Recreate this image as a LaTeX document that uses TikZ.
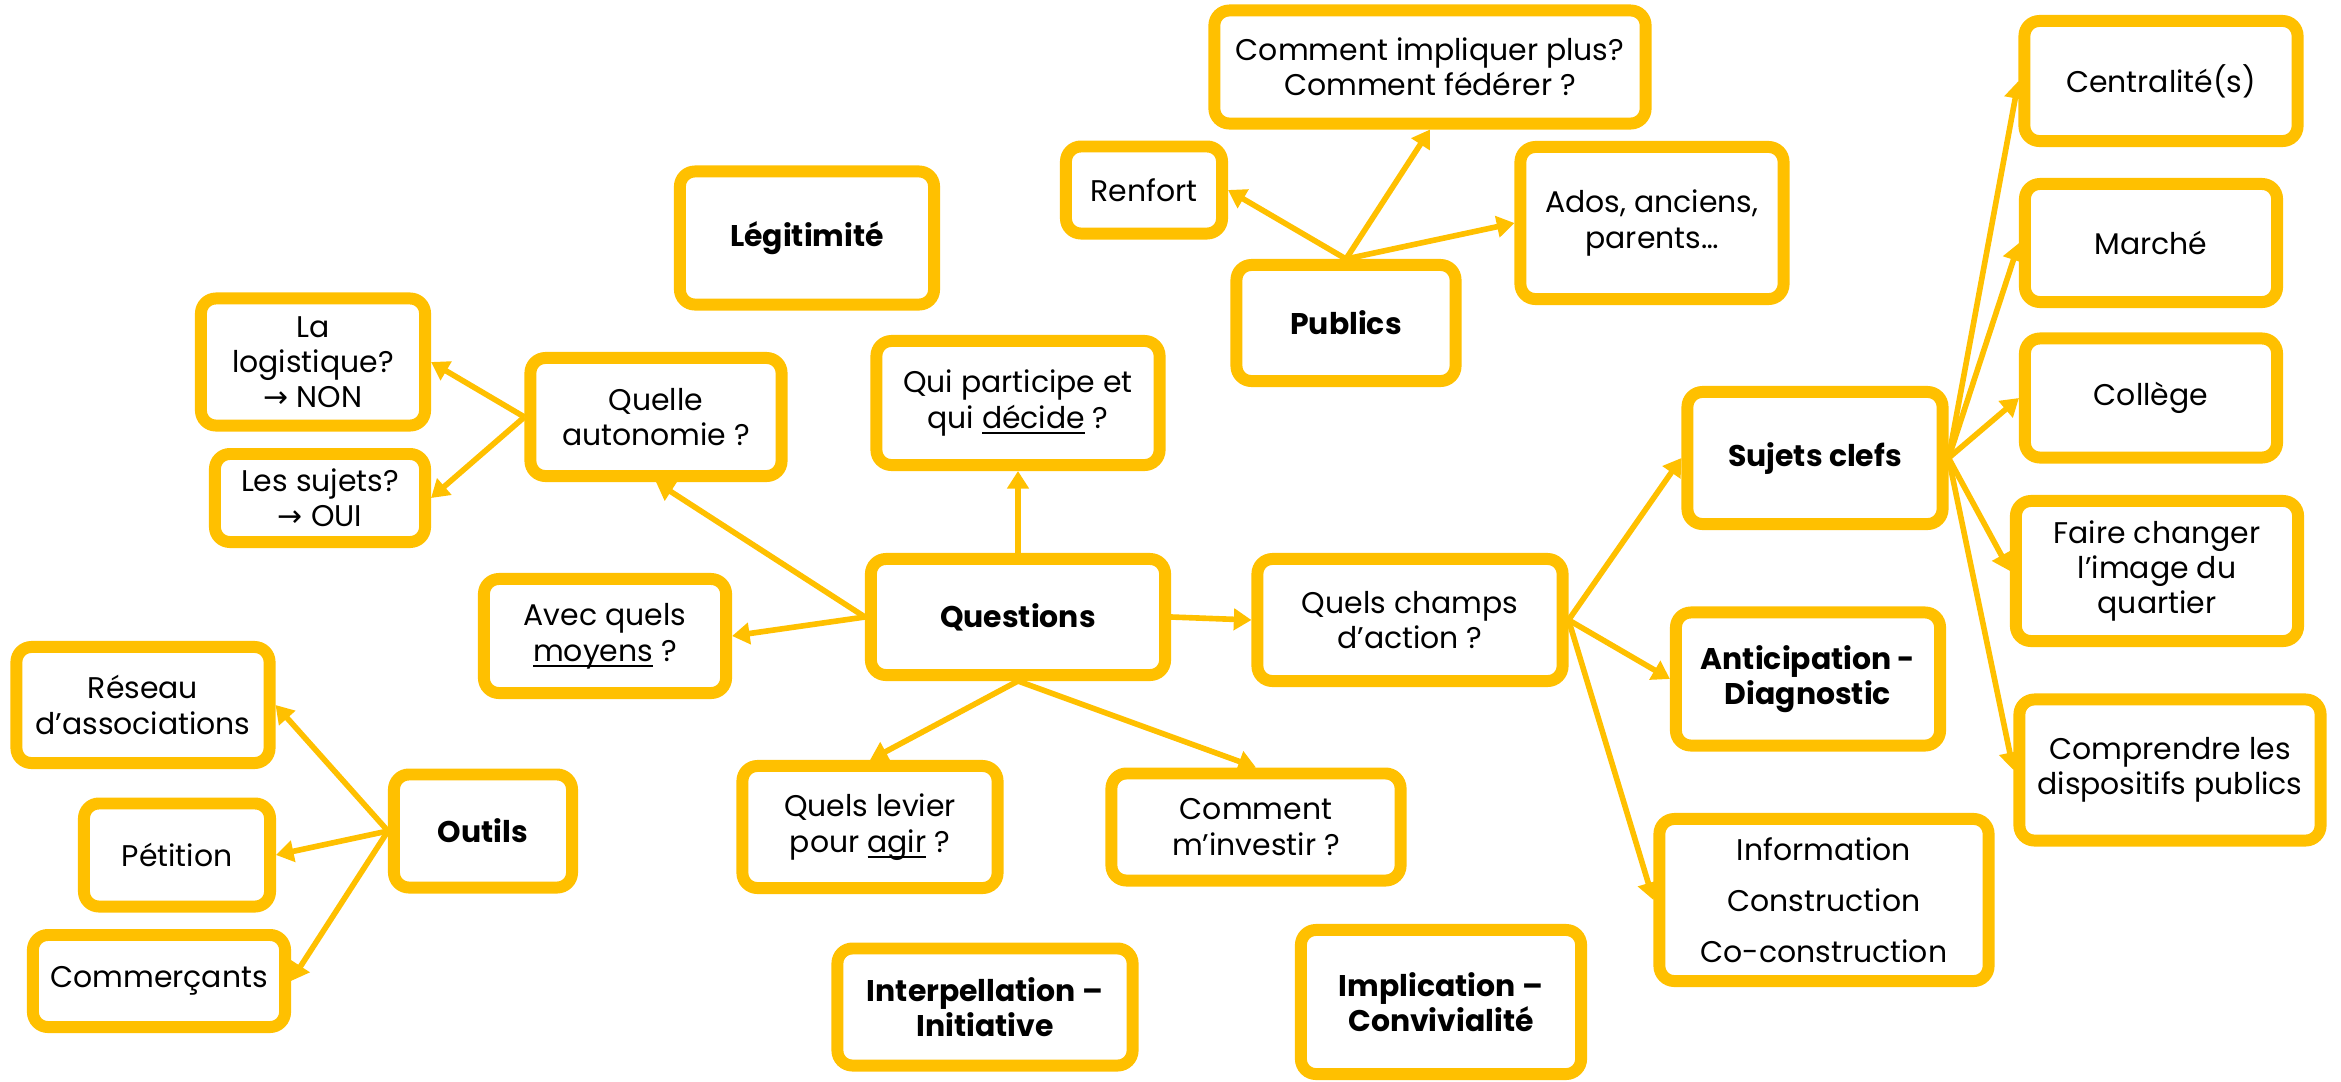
\documentclass[tikz,border=0pt]{standalone}
\usepackage{fontspec}
\setmainfont{Poppins}
\newfontfamily\symfont{DejaVu Sans}
\usetikzlibrary{arrows.meta}
\definecolor{gold}{HTML}{FFC000}
\newcommand{\ul}[1]{\underline{\smash{#1}}}
\newcommand{\fleche}{{\symfont →}}

\begin{document}
\begin{tikzpicture}[x=0.01cm, y=-0.01cm,
    n/.style={draw=gold, line width=3.4pt, rounded corners=0.15cm, fill=white, align=center, inner sep=1pt, font=\fontsize{8.5}{10}\selectfont},
    nb/.style={n, font=\fontsize{8.5}{10}\selectfont\bfseries},
    a/.style={color=gold, line width=1.6pt, -{Triangle[length=5pt, width=6pt]}}]
    \useasboundingbox (0,0) rectangle (2341,1081);

    \node[nb, minimum width=2.94cm, minimum height=1.16cm] (questions) at (1018,617) {Questions};
    \node[n, minimum width=2.83cm, minimum height=1.24cm] (participe) at (1018,403) {Qui participe et\\qui \ul{décide} ?};
    \node[n, minimum width=2.51cm, minimum height=1.18cm] (autonomie) at (656,417) {Quelle\\autonomie ?};
    \node[n, minimum width=2.24cm, minimum height=1.27cm] (logistique) at (313,362) {La\\logistique?\\\fleche\ NON};
    \node[n, minimum width=2.10cm, minimum height=0.88cm] (sujets) at (320,498) {Les sujets?\\\fleche\ OUI};
    \node[n, minimum width=2.42cm, minimum height=1.14cm] (moyens) at (605,636) {Avec quels\\\ul{moyens} ?};
    \node[nb, minimum width=2.54cm, minimum height=1.33cm] (legitimite) at (807,238) {Légitimité};
    \node[n, minimum width=2.55cm, minimum height=1.22cm] (levier) at (870,827) {Quels levier\\pour \ul{agir} ?};
    \node[n, minimum width=2.89cm, minimum height=1.07cm] (investir) at (1256,827) {Comment\\m’investir ?};
    \node[nb, minimum width=2.95cm, minimum height=1.17cm] (interpellation) at (985,1007) {Interpellation –\\Initiative};
    \node[nb, minimum width=2.80cm, minimum height=1.44cm] (implication) at (1441,1002) {Implication –\\Convivialité};

    \node[nb, minimum width=2.19cm, minimum height=1.16cm] (publics) at (1346,323) {Publics};
    \node[n, minimum width=4.31cm, minimum height=1.13cm] (impliquer) at (1430,67) {Comment impliquer plus?\\Comment fédérer ?};
    \node[n, minimum width=1.56cm, minimum height=0.87cm] (renfort) at (1144,190) {Renfort};
    \node[n, minimum width=2.63cm, minimum height=1.52cm] (ados) at (1652,223) {Ados, anciens,\\parents…};

    \node[nb, minimum width=1.78cm, minimum height=1.13cm] (outils) at (483,831) {Outils};
    \node[n, minimum width=2.53cm, minimum height=1.16cm] (reseau) at (143,705) {Réseau\\d’associations};
    \node[n, minimum width=1.86cm, minimum height=1.03cm] (petition) at (177,855) {Pétition};
    \node[n, minimum width=2.52cm, minimum height=0.92cm] (commercants) at (159,981) {Commerçants};

    \node[n, minimum width=3.05cm, minimum height=1.22cm] (champs) at (1410,620) {Quels champs\\d’action ?};
    \node[nb, minimum width=2.55cm, minimum height=1.32cm] (clefs) at (1815,458) {Sujets clefs};
    \node[nb, minimum width=2.64cm, minimum height=1.33cm] (anticipation) at (1808,679) {Anticipation -\\Diagnostic};
    \node[n, minimum width=3.29cm, minimum height=1.62cm, font=\fontsize{8.5}{14.5}\selectfont] (information) at (1824,900) {Information\\Construction\\Co-construction};

    \node[n, minimum width=2.73cm, minimum height=1.20cm] (centralite) at (2161,81) {Centralité(s)};
    \node[n, minimum width=2.52cm, minimum height=1.18cm] (marche) at (2151,243) {Marché};
    \node[n, minimum width=2.52cm, minimum height=1.19cm] (college) at (2151,398) {Collège};
    \node[n, minimum width=2.82cm, minimum height=1.40cm] (image) at (2157,571) {Faire changer\\l’image du\\quartier};
    \node[n, minimum width=3.01cm, minimum height=1.41cm] (comprendre) at (2170,770) {Comprendre les\\dispositifs publics};

    \path (questions.north) edge[a] (participe.south);
    \path (questions.west) edge[a] (autonomie.south);
    \path (questions.west) edge[a] (moyens.east);
    \path (questions.east) edge[a] (champs.west);
    \path (questions.south) edge[a] (levier.north);
    \path (questions.south) edge[a] (investir.north);
    \path (autonomie.west) edge[a] (logistique.east);
    \path (autonomie.west) edge[a] (sujets.east);
    \path (publics.north) edge[a] (renfort.east);
    \path (publics.north) edge[a] (impliquer.south);
    \path (publics.north) edge[a] (ados.west);
    \path (outils.west) edge[a] (reseau.east);
    \path (outils.west) edge[a] (petition.east);
    \path (outils.west) edge[a] (commercants.east);
    \path (champs.east) edge[a] (clefs.west);
    \path (champs.east) edge[a] (anticipation.west);
    \path (champs.east) edge[a] (information.west);
    \path (clefs.east) edge[a] (centralite.west);
    \path (clefs.east) edge[a] (marche.west);
    \path (clefs.east) edge[a] (college.west);
    \path (clefs.east) edge[a] (image.west);
    \path (clefs.east) edge[a] (comprendre.west);
\end{tikzpicture}
\end{document}
